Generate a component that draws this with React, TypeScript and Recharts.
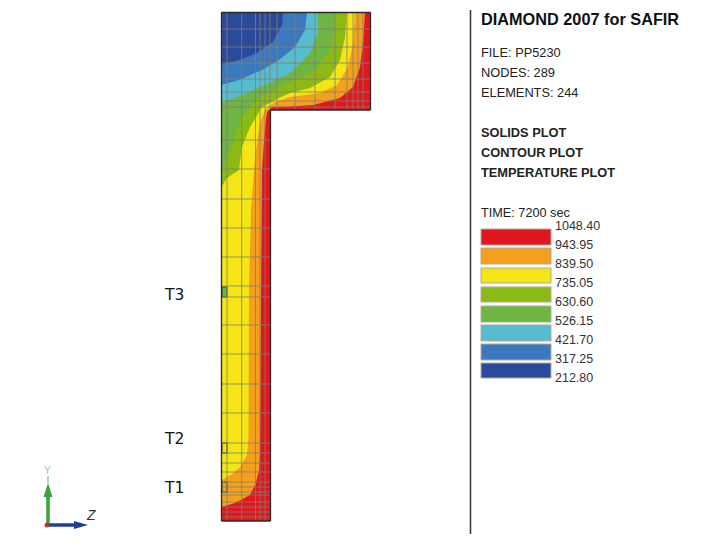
import { Area, ComposedChart, ReferenceArea, ReferenceDot, ReferenceLine, XAxis, YAxis } from "recharts";

const WIDTH = 713;
const HEIGHT = 559;
const TOP = 12.5;
const BOTTOM = 521;
const LEFT = 221.5;
const RIGHT = 370.5;
const STEM_RIGHT = 270.5;
const FLANGE_BOTTOM = 110;

// contour edges: [z, lower edge of the band]
const redEdge = [[LEFT, BOTTOM], [STEM_RIGHT, BOTTOM], [STEM_RIGHT, FLANGE_BOTTOM], [RIGHT, FLANGE_BOTTOM]];
const orangeEdge = [[LEFT, 507], [235, 503], [250, 495], [256, 483], [259, 470], [260, 453], [260.5, 380], [261, 300], [262, 170], [265, 127], [267, 112], [272, 107], [290, 106.5], [313, 105], [340, 98], [353, 87], [360, 67], [363, 43], [365, TOP]];
const yellowEdge = [[LEFT, 480], [232, 474], [240, 467], [247, 455], [248.5, 438], [249, 290], [251, 210], [255, 157], [260, 123], [265, 110], [275, 102], [290, 97], [320, 93], [337, 85], [348, 67], [353, 43], [355, TOP]];
const greenEdge = [[LEFT, 187], [227, 178], [239, 170], [242, 147], [250, 127], [262, 107], [279, 98], [290, 93], [310, 88], [330, 77], [340, 60], [345, 37], [347, TOP]];
const midGreenEdge = [[LEFT, 172], [230, 150], [242, 117], [259, 97], [290, 82], [313, 72], [328, 53], [333, 37], [335, TOP]];
const cyanEdge = [[LEFT, 103], [242, 95], [265, 85], [290, 73], [310, 53], [318, 33], [318, TOP]];
const blueEdge = [[LEFT, 85], [239, 80], [262, 70], [279, 60], [295, 47], [305, 30], [307, TOP]];
const navyEdge = [[LEFT, 64], [239, 60], [255, 54], [273, 42], [282, 25], [283, TOP]];

const bandEdges = [redEdge, orangeEdge, yellowEdge, greenEdge, midGreenEdge, cyanEdge, blueEdge, navyEdge];
const bandColors = ["#e2161f", "#f5a01c", "#f5e515", "#8cba14", "#6fb544", "#58bcd0", "#3b78bd", "#2b4a9c"];

const legendTicks = ["1048.40", "943.95", "839.50", "735.05", "630.60", "526.15", "421.70", "317.25", "212.80"];
const legendTickTops = [219, 238, 257, 276, 295, 314, 333, 352, 371];
const legendTops = [229, 248, 268, 287, 306, 325, 344, 363];
const legendBottoms = [245, 264, 283, 302, 322, 341, 360, 378];

const flangeMeshZ = [227, 241.7, 255.5, 260, 265, 270, 277, 295, 315, 335, 347, 353, 358, 363];
const flangeMeshY = [29, 47, 63, 79, 92, 101, 107];
const stemMeshZ = [227, 241.7, 255.5, 260, 265];
const stemMeshY = [140, 169, 199, 228, 257, 286, 297, 325, 354, 384, 413, 443, 453, 463, 472, 482, 487, 492, 495, 502, 507, 512, 517];

const outline = [[LEFT, TOP], [RIGHT, TOP], [RIGHT, FLANGE_BOTTOM], [STEM_RIGHT, FLANGE_BOTTOM], [STEM_RIGHT, BOTTOM], [LEFT, BOTTOM], [LEFT, TOP]];

const probes = [
  { label: "T3", y1: 287, y2: 297, fill: "#6fb544", textTop: 286 },
  { label: "T2", y1: 443, y2: 453, fill: "none", textTop: 430 },
  { label: "T1", y1: 482, y2: 492, fill: "none", textTop: 479 },
];

const greenHead = [[43.5, 497], [48, 483], [52.5, 497]];
const blueHead = [
  { z: 74, range: [521, 529] },
  { z: 88, range: [525, 525] },
];

const infoLines = [
  { text: "FILE: PP5230", top: 45, bold: false },
  { text: "NODES: 289", top: 65, bold: false },
  { text: "ELEMENTS: 244", top: 85, bold: false },
  { text: "SOLIDS PLOT", top: 125, bold: true },
  { text: "CONTOUR PLOT", top: 145, bold: true },
  { text: "TEMPERATURE PLOT", top: 165, bold: true },
];

const MESH = "#7d8072";
const MESH_OPACITY = 0.8;
const SANS = "'Liberation Sans', Arial, sans-serif";

const toBand = (edge: number[][]) => edge.map(([z, y]) => ({ z, range: [TOP, y] }));

const place = (left: number, top: number, extra: object = {}) => ({
  position: "absolute" as const,
  left,
  top,
  whiteSpace: "nowrap" as const,
  fontFamily: SANS,
  color: "#222",
  ...extra,
});

export default function App() {
  return (
    <div style={{ position: "absolute", left: 0, top: 0, width: WIDTH, height: HEIGHT, background: "#fff" }}>
      <ComposedChart width={WIDTH} height={HEIGHT} margin={{ top: 0, right: 0, bottom: 0, left: 0 }}>
        <XAxis type="number" dataKey="z" domain={[0, WIDTH]} hide allowDataOverflow />
        <YAxis type="number" domain={[0, HEIGHT]} reversed hide allowDataOverflow />

        {bandEdges.map((edge, i) => (
          <Area
            key={bandColors[i]}
            data={toBand(edge)}
            dataKey="range"
            type="linear"
            fill={bandColors[i]}
            fillOpacity={1}
            stroke="none"
            dot={false}
            activeDot={false}
            isAnimationActive={false}
          />
        ))}

        {flangeMeshZ.map((z) => (
          <ReferenceLine key={`fz${z}`} segment={[{ x: z, y: TOP }, { x: z, y: FLANGE_BOTTOM }]} stroke={MESH} strokeOpacity={MESH_OPACITY} />
        ))}
        {flangeMeshY.map((y) => (
          <ReferenceLine key={`fy${y}`} segment={[{ x: LEFT, y }, { x: RIGHT, y }]} stroke={MESH} strokeOpacity={MESH_OPACITY} />
        ))}
        {stemMeshZ.map((z) => (
          <ReferenceLine key={`sz${z}`} segment={[{ x: z, y: FLANGE_BOTTOM }, { x: z, y: BOTTOM }]} stroke={MESH} strokeOpacity={MESH_OPACITY} />
        ))}
        {stemMeshY.map((y) => (
          <ReferenceLine key={`sy${y}`} segment={[{ x: LEFT, y }, { x: STEM_RIGHT, y }]} stroke={MESH} strokeOpacity={MESH_OPACITY} />
        ))}

        {outline.slice(1).map(([z, y], i) => (
          <ReferenceLine
            key={`o${i}`}
            segment={[{ x: outline[i][0], y: outline[i][1] }, { x: z, y }]}
            stroke="#2a2a2a"
            strokeWidth={1.3}
          />
        ))}

        {probes.map((p) => (
          <ReferenceArea key={p.label} x1={222} x2={227} y1={p.y1} y2={p.y2} fill={p.fill} fillOpacity={1} stroke="#3c4a30" />
        ))}

        {legendTops.map((top, i) => (
          <ReferenceArea
            key={`swatch${top}`}
            x1={481}
            x2={551}
            y1={top}
            y2={legendBottoms[i]}
            fill={bandColors[i]}
            fillOpacity={1}
            stroke="#b0ad98"
          />
        ))}

        <ReferenceLine segment={[{ x: 470.5, y: 10 }, { x: 470.5, y: 534 }]} stroke="#333" strokeWidth={1.5} />

        <ReferenceLine segment={[{ x: 48, y: 525 }, { x: 48, y: 490 }]} stroke="#3aa33a" strokeWidth={3.5} />
        <ReferenceLine segment={[{ x: 48, y: 483 }, { x: 48, y: 476 }]} stroke="#b5d5b0" strokeWidth={2} />
        <ReferenceLine segment={[{ x: 47, y: 525 }, { x: 78, y: 525 }]} stroke="#1f3f9c" strokeWidth={3.5} />
        <Area
          data={greenHead.map(([z, y]) => ({ z, range: [y, 497] }))}
          dataKey="range"
          type="linear"
          fill="#3aa33a"
          fillOpacity={1}
          stroke="none"
          dot={false}
          activeDot={false}
          isAnimationActive={false}
        />
        <Area
          data={blueHead}
          dataKey="range"
          type="linear"
          fill="#1f3f9c"
          fillOpacity={1}
          stroke="none"
          dot={false}
          activeDot={false}
          isAnimationActive={false}
        />
        <ReferenceDot x={47} y={525} r={2.5} fill="#a8403a" stroke="none" />
      </ComposedChart>

      <div style={place(481, 10, { fontSize: 16.3, fontWeight: 700, color: "#111" })}>DIAMOND 2007 for SAFIR</div>
      {infoLines.map((l) => (
        <div key={l.text} style={place(481, l.top, { fontSize: 12.8, fontWeight: l.bold ? 700 : 400 })}>
          {l.text}
        </div>
      ))}
      <div style={place(481, 206, { fontSize: 12.7 })}>TIME: 7200 sec</div>
      {legendTicks.map((t, i) => (
        <div key={t} style={place(555, legendTickTops[i], { fontSize: 12.5, color: "#333" })}>
          {t}
        </div>
      ))}
      {probes.map((p) => (
        <div key={p.label} style={place(165, p.textTop, { fontFamily: "'DejaVu Sans'", fontSize: 15.5, color: "#111" })}>
          {p.label}
        </div>
      ))}
      <div style={place(44, 465, { fontSize: 10, color: "#a9c4a4" })}>Y</div>
      <div style={place(87, 507, { fontSize: 14, fontStyle: "italic", color: "#333" })}>Z</div>
    </div>
  );
}
